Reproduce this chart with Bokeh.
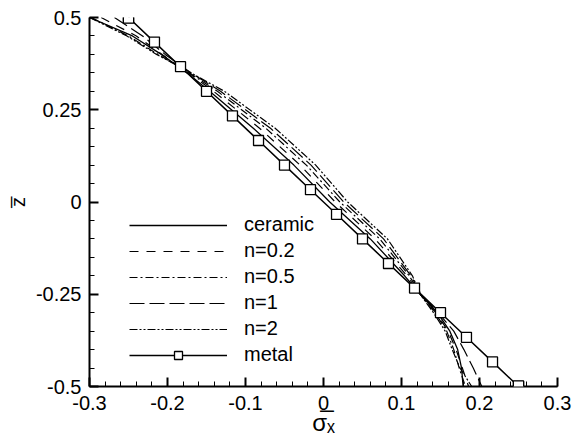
from bokeh.plotting import figure
from bokeh.models import FixedTicker, Legend, LegendItem, Label
from bokeh.embed import file_html
from bokeh.resources import INLINE
import numpy as np

z_levels = [0.5, 0.45, 0.4, 0.35, 0.3, 0.2, 0.1, 0.0, -0.1, -0.2, -0.25, -0.3, -0.35, -0.4, -0.45, -0.5]

ceramic = [-0.300, -0.245, -0.208, -0.175, -0.146, -0.090, -0.038, 0.008, 0.060, 0.104, 0.124, 0.146, 0.162, 0.172, 0.177, 0.179]
n02     = [-0.285, -0.240, -0.207, -0.173, -0.141, -0.082, -0.030, 0.015, 0.066, 0.107, 0.124, 0.144, 0.160, 0.170, 0.178, 0.186]
n05     = [-0.298, -0.250, -0.212, -0.172, -0.136, -0.074, -0.022, 0.021, 0.072, 0.110, 0.124, 0.143, 0.158, 0.167, 0.174, 0.182]
n1      = [-0.268, -0.232, -0.203, -0.170, -0.132, -0.068, -0.016, 0.026, 0.077, 0.112, 0.125, 0.147, 0.167, 0.180, 0.192, 0.203]
n2      = [-0.300, -0.252, -0.214, -0.170, -0.127, -0.062, -0.010, 0.031, 0.082, 0.114, 0.124, 0.141, 0.156, 0.165, 0.175, 0.190]

metal_z = [0.5, 0.4333, 0.3667, 0.3, 0.2333, 0.1667, 0.1, 0.0333, -0.0333, -0.1, -0.1667, -0.2333, -0.3, -0.3667, -0.4333, -0.5]
metal_x = [-0.25, -0.2167, -0.1833, -0.15, -0.1167, -0.0833, -0.05, -0.0167, 0.0167, 0.05, 0.0833, 0.1167, 0.15, 0.1833, 0.2167, 0.25]

x_tick_vals = [-0.3, -0.2, -0.1, 0, 0.1, 0.2, 0.3]
x_tick_labels = ["-0.3", "-0.2", "-0.1", "0", "0.1", "0.2", "0.3"]
y_tick_vals = [-0.5, -0.25, 0, 0.25, 0.5]
y_tick_labels = ["-0.5", "-0.25", "0", "0.25", "0.5"]

FONT = "Liberation Sans"

p = figure(width=578, height=441, x_range=(-0.3, 0.3), y_range=(-0.5, 0.5),
           output_backend="svg", toolbar_location=None,
           min_border_left=89, min_border_right=21, min_border_top=17, min_border_bottom=55)
p.outline_line_color = None
p.xgrid.visible = False
p.ygrid.visible = False

x_minor = [float(v) for v in np.round(np.arange(-0.3, 0.3001, 0.02), 4)]
y_minor = [float(v) for v in np.round(np.arange(-0.5, 0.5001, 0.05), 4)]
p.xaxis.ticker = FixedTicker(ticks=x_tick_vals, minor_ticks=x_minor)
p.yaxis.ticker = FixedTicker(ticks=y_tick_vals, minor_ticks=y_minor)
p.xaxis.major_label_overrides = {v: l for v, l in zip(x_tick_vals, x_tick_labels)}
p.yaxis.major_label_overrides = {v: l for v, l in zip(y_tick_vals, y_tick_labels)}

for ax in (p.xaxis, p.yaxis):
    ax.axis_line_color = "black"
    ax.axis_line_width = 2
    ax.major_tick_line_color = "black"
    ax.major_tick_line_width = 2
    ax.minor_tick_line_color = "black"
    ax.minor_tick_line_width = 1
    ax.major_tick_in = 9
    ax.major_tick_out = 0
    ax.minor_tick_in = 5
    ax.minor_tick_out = 0
    ax.major_label_text_font = FONT
    ax.major_label_text_font_size = "20px"
    ax.major_label_text_color = "black"
    ax.axis_label_text_font = FONT
    ax.axis_label_text_font_style = "normal"
    ax.axis_label_text_color = "black"

p.xaxis.major_label_standoff = 9
p.yaxis.major_label_standoff = 8
p.xaxis.axis_label = "\u03c3\u0305\u2093"
p.xaxis.axis_label_text_font_size = "24px"
p.xaxis.axis_label_standoff = -4
p.yaxis.axis_label = "z\u0305"
p.yaxis.axis_label_text_font_size = "20px"
p.yaxis.axis_label_standoff = 4

r_c = p.line(ceramic, z_levels, line_color="black", line_width=1.3)
r_02 = p.line(n02, z_levels, line_color="black", line_width=1.2, line_dash="9 8")
r_05 = p.line(n05, z_levels, line_color="black", line_width=1.2, line_dash="8 3 2 3")
r_1 = p.line(n1, z_levels, line_color="black", line_width=1.2, line_dash="15 5")
r_2 = p.line(n2, z_levels, line_color="black", line_width=1.2, line_dash="8 2 2 2 2 2")
r_m = p.line(metal_x, metal_z, line_color="black", line_width=1.5)
r_ms = p.scatter(metal_x, metal_z, marker="square", size=10, fill_color="white",
                 line_color="black", line_width=1.3)

# end markers sit on the frame edge; redraw them as unclipped boxed labels
for i in (0, len(metal_x) - 1):
    p.add_layout(Label(x=metal_x[i], y=metal_z[i], text=" ", text_align="center",
                       text_baseline="middle", text_font_size="1px",
                       padding=5, border_line_color="black", border_line_width=1.3,
                       background_fill_color="white"))

legend = Legend(items=[
    LegendItem(label="ceramic", renderers=[r_c]),
    LegendItem(label="n=0.2", renderers=[r_02]),
    LegendItem(label="n=0.5", renderers=[r_05]),
    LegendItem(label="n=1", renderers=[r_1]),
    LegendItem(label="n=2", renderers=[r_2]),
    LegendItem(label="metal", renderers=[r_m, r_ms]),
], location=(40, 20))
legend.border_line_color = None
legend.background_fill_alpha = 0
legend.margin = 0
legend.padding = 0
legend.glyph_width = 98
legend.glyph_height = 20
legend.label_height = 20
legend.spacing = 3
legend.label_standoff = 17
legend.label_text_font = FONT
legend.label_text_font_size = "20px"
legend.label_text_color = "black"
p.add_layout(legend, "center")

open("out.html", "w").write(file_html(p, INLINE))
